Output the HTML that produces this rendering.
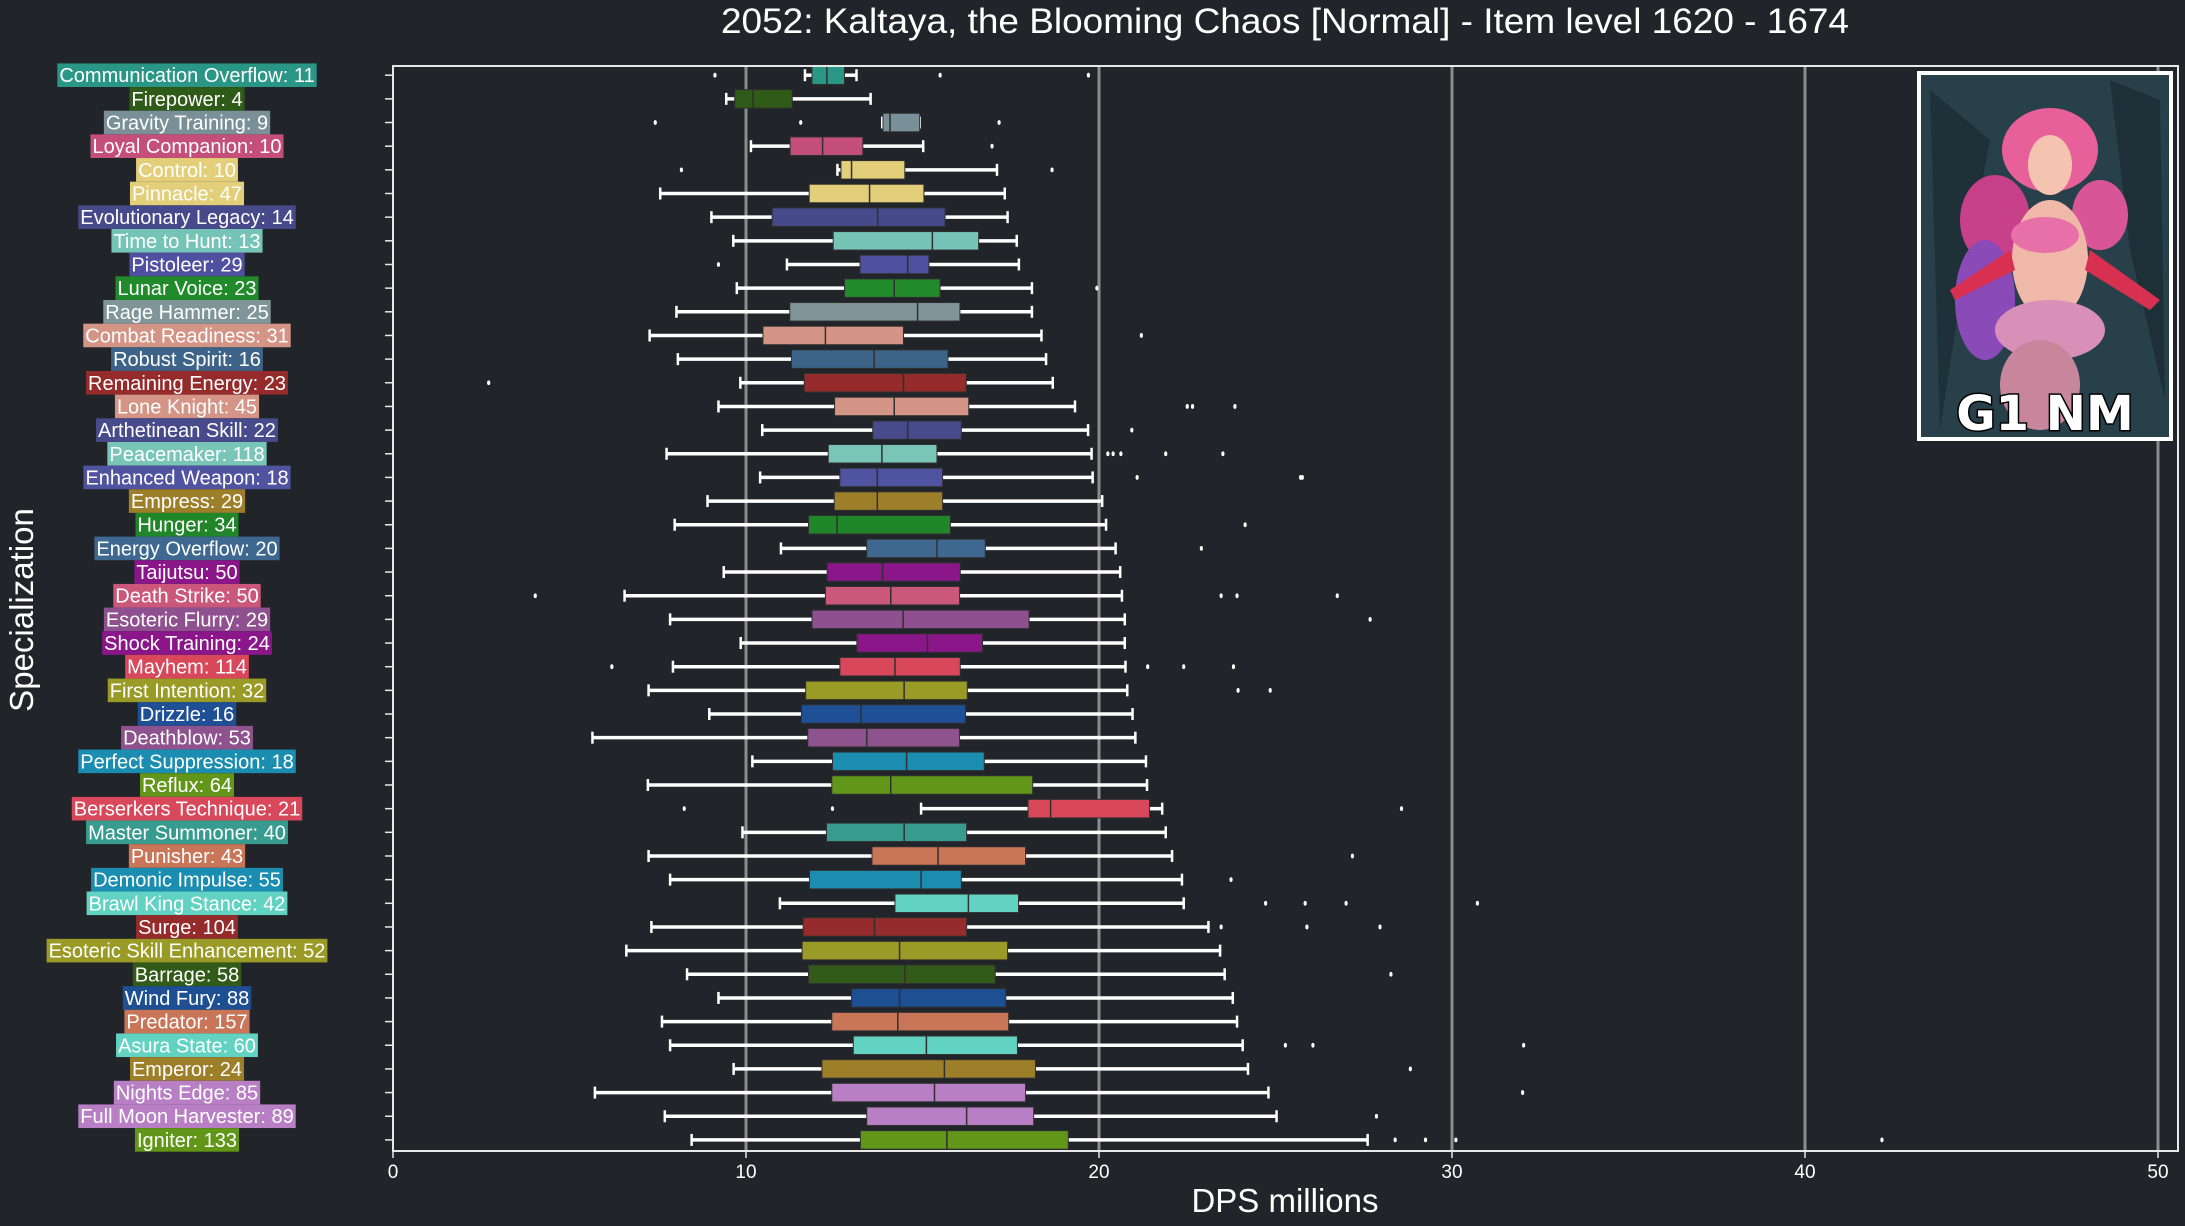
<!DOCTYPE html>
<html><head><meta charset="utf-8">
<style>
html,body{margin:0;padding:0;background:#212429;}
svg{display:block;font-family:"Liberation Sans Narrow","Liberation Sans",sans-serif;}
</style></head>
<body>
<svg id="chart" width="2185" height="1226" viewBox="0 0 2185 1226" xmlns="http://www.w3.org/2000/svg">
<rect x="0" y="0" width="2185" height="1226" fill="#212429"/>
<text x="1285" y="33" fill="#ffffff" font-size="35" text-anchor="middle" textLength="1128" lengthAdjust="spacingAndGlyphs">2052: Kaltaya, the Blooming Chaos [Normal] - Item level 1620 - 1674</text>
<g id="grid"></g>
<g id="ticks"></g>
<g id="boxes"></g>
<g id="labels"></g>
<rect x="393" y="66" width="1785" height="1085" fill="none" stroke="#e8e8e8" stroke-width="2"/>
<g id="xticks"></g>
<text x="1285" y="1212" fill="#ffffff" font-size="33" text-anchor="middle">DPS millions</text>
<text x="0" y="0" transform="translate(33,610) rotate(-90)" fill="#ffffff" font-size="33" text-anchor="middle">Specialization</text>
<g>
  <rect x="1917" y="71" width="256" height="370" fill="#ffffff"/>
  <rect x="1921" y="75" width="248" height="362" fill="#28404a"/>
  <path d="M1930 90 L1990 140 L1960 300 L1940 430 Z" fill="#1e3038"/>
  <path d="M2110 80 L2160 100 L2165 400 L2130 250 Z" fill="#1d3038"/>
  <ellipse cx="2050" cy="150" rx="48" ry="42" fill="#e8609a"/>
  <ellipse cx="2050" cy="165" rx="22" ry="30" fill="#f4c4b0"/>
  <ellipse cx="1995" cy="220" rx="35" ry="45" fill="#c8408a"/>
  <ellipse cx="2100" cy="215" rx="28" ry="35" fill="#d85598"/>
  <ellipse cx="1985" cy="300" rx="30" ry="60" fill="#8a4ab8"/>
  <ellipse cx="2050" cy="260" rx="38" ry="60" fill="#f0b8a8"/>
  <ellipse cx="2045" cy="235" rx="34" ry="18" fill="#e870a8"/>
  <ellipse cx="2050" cy="330" rx="55" ry="30" fill="#d890b8"/>
  <ellipse cx="2040" cy="385" rx="40" ry="45" fill="#c8869c"/>
  <path d="M2090 250 L2160 300 L2150 310 L2085 270 Z" fill="#d83050"/>
  <path d="M2010 250 L1950 290 L1955 300 L2015 270 Z" fill="#d83050"/>
  <text x="2045" y="430" font-family="'DejaVu Sans','Liberation Sans',sans-serif" font-size="48" font-weight="bold" fill="#ffffff" stroke="#000000" stroke-width="3" paint-order="stroke" text-anchor="middle">G1 NM</text>
</g>
</svg>
<script>
const names = ["Communication Overflow: 11","Firepower: 4","Gravity Training: 9","Loyal Companion: 10","Control: 10","Pinnacle: 47","Evolutionary Legacy: 14","Time to Hunt: 13","Pistoleer: 29","Lunar Voice: 23","Rage Hammer: 25","Combat Readiness: 31","Robust Spirit: 16","Remaining Energy: 23","Lone Knight: 45","Arthetinean Skill: 22","Peacemaker: 118","Enhanced Weapon: 18","Empress: 29","Hunger: 34","Energy Overflow: 20","Taijutsu: 50","Death Strike: 50","Esoteric Flurry: 29","Shock Training: 24","Mayhem: 114","First Intention: 32","Drizzle: 16","Deathblow: 53","Perfect Suppression: 18","Reflux: 64","Berserkers Technique: 21","Master Summoner: 40","Punisher: 43","Demonic Impulse: 55","Brawl King Stance: 42","Surge: 104","Esoteric Skill Enhancement: 52","Barrage: 58","Wind Fury: 88","Predator: 157","Asura State: 60","Emperor: 24","Nights Edge: 85","Full Moon Harvester: 89","Igniter: 133"];
const colors = ["#2a9686","#2f5a18","#7a9098","#c4507a","#e3cf7a","#e3cf7a","#464a8a","#76c4b7","#5050a0","#218a2a","#7f9598","#d49486","#3d6488","#962b2b","#d49486","#474b8b","#79c6b8","#5053a0","#9d7f2a","#21852a","#3e6890","#8a1689","#cb577a","#8e508e","#8a1689","#d8485a","#9a9a26","#1f5096","#8e528e","#1b8db0","#629618","#d8485a","#379c8f","#c97558","#1b8db0","#62d2c2","#962b2b","#9a9a26","#325a18","#1d4f92","#c97558","#62d2c2","#9d7f2a","#b87fc5","#b87fc5","#629618"];
const whiskLo = [11.67,9.44,13.86,10.14,12.59,7.57,9.02,9.64,11.16,9.74,8.03,7.27,8.07,9.84,9.22,10.46,7.75,10.4,8.91,7.98,10.99,9.37,6.56,7.85,9.85,7.93,7.24,8.96,5.65,10.18,7.22,14.96,9.9,7.24,7.85,10.96,7.32,6.61,8.33,9.22,7.62,7.85,9.65,5.72,7.7,8.46];
const q1 = [11.87,9.68,13.88,11.25,12.69,11.79,10.74,12.47,13.23,12.79,11.24,10.48,11.29,11.65,12.51,13.59,12.33,12.66,12.5,11.77,13.42,12.3,12.25,11.87,13.14,12.66,11.69,11.57,11.75,12.45,12.43,17.99,12.28,13.57,11.8,14.22,11.62,11.59,11.77,12.99,12.43,13.04,12.15,12.43,13.42,13.24];
const med = [12.29,10.2,14.08,12.17,12.99,13.5,13.73,15.28,14.58,14.2,14.86,12.25,13.63,14.46,14.2,14.58,13.85,13.72,13.72,12.58,15.41,13.87,14.1,14.45,15.14,14.22,14.48,13.26,13.42,14.55,14.1,18.63,14.48,15.44,14.96,16.3,13.64,14.35,14.5,14.35,14.3,15.11,15.62,15.34,16.25,15.69];
const q3 = [12.79,11.31,14.92,13.31,14.5,15.04,15.64,16.59,15.18,15.5,16.06,14.46,15.72,16.24,16.31,16.1,15.41,15.57,15.57,15.79,16.78,16.07,16.05,18.02,16.7,16.07,16.27,16.22,16.05,16.75,18.12,21.43,16.25,17.92,16.1,17.72,16.25,17.41,17.06,17.36,17.44,17.69,18.2,17.92,18.15,19.13];
const whiskHi = [13.13,13.53,14.92,15.02,17.11,17.33,17.41,17.67,17.73,18.1,18.1,18.37,18.5,18.69,19.32,19.69,19.79,19.82,20.09,20.2,20.47,20.6,20.65,20.73,20.73,20.75,20.8,20.95,21.03,21.33,21.36,21.79,21.89,22.07,22.35,22.4,23.1,23.43,23.56,23.79,23.91,24.07,24.22,24.8,25.03,27.61];
const outliers = [[9.12,15.5,19.7],[],[7.43,11.55,17.17],[16.97],[8.17,18.67],[],[],[],[9.22],[19.94],[],[21.2],[],[2.71],[22.5,22.65,23.85],[20.93],[20.25,20.4,20.62,21.89,23.51],[21.08,25.71,25.76],[],[24.14],[22.9],[],[4.03,23.46,23.91,26.75],[27.68],[],[6.2,21.38,22.4,23.81],[23.94,24.85],[],[],[],[],[8.25,12.45,28.57],[],[27.18],[23.74],[24.72,25.84,27.0,30.72],[23.46,25.89,27.96],[],[28.27],[],[],[25.28,26.06,32.03],[28.82],[32.0],[27.86],[28.39,29.25,30.11,42.18]];
const xTicks = [0,10,20,30,40,50];

const NS = "http://www.w3.org/2000/svg";
const X0 = 393, PX = 35.3;
function xs(v){ return X0 + v*PX; }
function ys(i){ return 75.2 + i*23.66; }
function mk(tag, attrs, parent){
  const e = document.createElementNS(NS, tag);
  for (const k in attrs) e.setAttribute(k, attrs[k]);
  parent.appendChild(e);
  return e;
}
const grid = document.getElementById('grid');
const xt = document.getElementById('xticks');
xTicks.forEach(t=>{
  if (t>0){
    const g = mk('line',{x1:xs(t),x2:xs(t),y1:66,y2:1151,stroke:'#8c8c8c','stroke-width':3},grid);
    
    
  }
  const tk = mk('line',{x1:xs(t),x2:xs(t),y1:1151,y2:1158,stroke:'#e8e8e8','stroke-width':1.5},xt);
  
  
  const tl = mk('text',{x:xs(t),y:1178,fill:'#ffffff','font-size':19,'text-anchor':'middle'},xt);
  tl.textContent = t;
  
  
});
const ticks = document.getElementById('ticks');
const boxes = document.getElementById('boxes');
const labels = document.getElementById('labels');
const BH = 18.5;
names.forEach((n,i)=>{
  const y = ys(i);
  const tk = mk('line',{x1:385,x2:393,y1:y,y2:y,stroke:'#e8e8e8','stroke-width':1.5},ticks);
  
  
  const g = mk('g',{},boxes);
  
  
  mk('line',{x1:xs(whiskLo[i]),x2:xs(q1[i]),y1:y,y2:y,stroke:'#ffffff','stroke-width':3.5},g);
  mk('line',{x1:xs(q3[i]),x2:xs(whiskHi[i]),y1:y,y2:y,stroke:'#ffffff','stroke-width':3.5},g);
  mk('line',{x1:xs(whiskLo[i]),x2:xs(whiskLo[i]),y1:y-6,y2:y+6,stroke:'#ffffff','stroke-width':2.5},g);
  mk('line',{x1:xs(whiskHi[i]),x2:xs(whiskHi[i]),y1:y-6,y2:y+6,stroke:'#ffffff','stroke-width':2.5},g);
  mk('rect',{x:xs(q1[i]),y:y-BH/2,width:Math.max(1,xs(q3[i])-xs(q1[i])),height:BH,fill:colors[i],stroke:'#303030','stroke-width':1},g);
  mk('line',{x1:xs(med[i]),x2:xs(med[i]),y1:y-BH/2,y2:y+BH/2,stroke:'#303030','stroke-width':1.5},g);
  outliers[i].forEach(o=>{
    const d = mk('ellipse',{cx:xs(o),cy:y,rx:1.6,ry:2.4,fill:'#ffffff'},g);
    
    
  });
  const lg = mk('g',{},labels);
  
  
  const bg = mk('rect',{y:y-11.8,height:23.6,fill:colors[i]},lg);
  const tx = mk('text',{x:187,y:y+7,fill:'#ffffff','font-size':20,'text-anchor':'middle'},lg);
  tx.textContent = n;
  const w = tx.getComputedTextLength();
  bg.setAttribute('x', 187 - w/2 - 2);
  bg.setAttribute('width', w + 4);
});
</script>
</body></html>
